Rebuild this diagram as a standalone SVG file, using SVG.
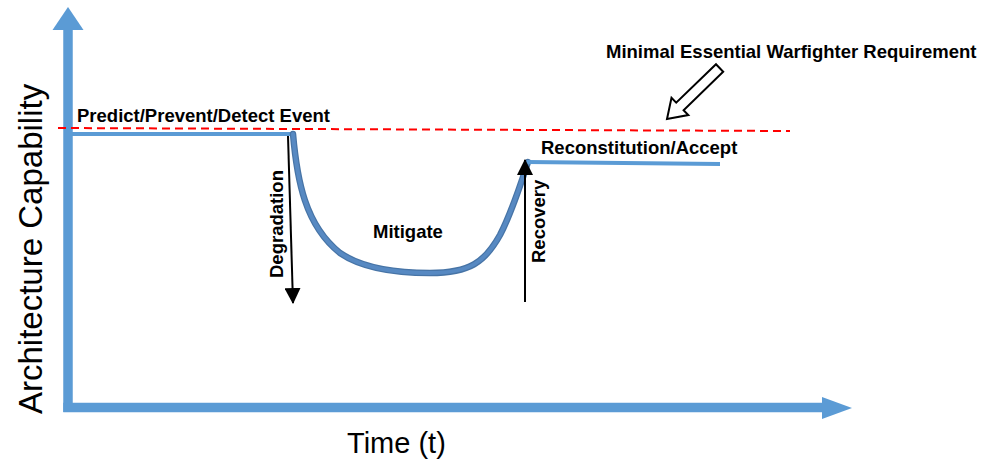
<svg xmlns="http://www.w3.org/2000/svg" width="981" height="461" viewBox="0 0 981 461">
  <style>
    .axis { fill: #5b9bd5; stroke: none; }
    .axisline { stroke: #5b9bd5; stroke-width: 9.5; fill: none; }
    .plateau { stroke: #5b9bd5; stroke-width: 4; fill: none; }
    .curve-out { stroke: #4774a6; stroke-width: 6.5; fill: none; stroke-linecap: round; }
    .curve-in { stroke: #5789c2; stroke-width: 4; fill: none; stroke-linecap: round; }
    .thresh { stroke: #ff0000; stroke-width: 2; stroke-dasharray: 8 5; fill: none; }
    .arrow { stroke: #000; stroke-width: 2; fill: none; marker-end: url(#ah); }
    .lbl { font-family: "Liberation Sans", Arial, sans-serif; font-weight: bold; font-size: 18.5px; fill: #000; }
    .big { font-family: "Liberation Sans", Arial, sans-serif; fill: #000; }
  </style>
  <defs>
    <marker id="ah" markerUnits="userSpaceOnUse" markerWidth="16" markerHeight="16" viewBox="0 0 15 15" refX="14" refY="7.5" orient="auto">
      <path d="M0,0 L15,7.5 L0,15 z" fill="#000"/>
    </marker>
  </defs>

  <g id="axes">
    <line class="axisline" x1="68" y1="29" x2="68" y2="412"/>
    <polygon class="axis" points="68,7 83.5,30 52.5,30"/>
    <line class="axisline" x1="63.3" y1="407.5" x2="823" y2="407.5"/>
    <polygon class="axis" points="852,408 822,397 822,419"/>
    <text class="big" font-size="33" transform="translate(42,414) rotate(-90)">Architecture Capability</text>
    <text class="big" font-size="29" x="347" y="453">Time (t)</text>
  </g>

  <g id="threshold">
    <line class="thresh" x1="58" y1="128" x2="790" y2="131"/>
  </g>

  <g id="capability-curve">
    <line class="plateau" x1="72" y1="134" x2="293" y2="134"/>
    <path class="curve-out" d="M293,134 C297,180 305,225 340,253 C365,270 400,273 430,273 C470,273 485,262 500,235 C512,212 522,180 528,162"/>
    <path class="curve-in" d="M293,134 C297,180 305,225 340,253 C365,270 400,273 430,273 C470,273 485,262 500,235 C512,212 522,180 528,162"/>
    <line class="plateau" x1="527" y1="162" x2="720" y2="164"/>
  </g>

  <g id="connectors">
    <line class="arrow" x1="288" y1="136" x2="293" y2="303"/>
    <line class="arrow" x1="525" y1="302" x2="525" y2="160"/>
    <polygon points="716,64.2 723.2,71.8 683.6,110.3 688.3,115.1 667,119 671.5,97.9 676.2,102.7" fill="#fff" stroke="#000" stroke-width="2" stroke-linejoin="miter"/>
  </g>

  <g id="node-predict"><text class="lbl" x="77" y="122">Predict/Prevent/Detect Event</text></g>
  <g id="node-requirement"><text class="lbl" x="606" y="58">Minimal Essential Warfighter Requirement</text></g>
  <g id="node-reconstitution"><text class="lbl" x="541" y="154">Reconstitution/Accept</text></g>
  <g id="node-mitigate"><text class="lbl" x="373" y="238">Mitigate</text></g>
  <g id="node-degradation"><text class="lbl" transform="translate(283,278) rotate(-90)">Degradation</text></g>
  <g id="node-recovery"><text class="lbl" transform="translate(545,263) rotate(-90)">Recovery</text></g>
</svg>
